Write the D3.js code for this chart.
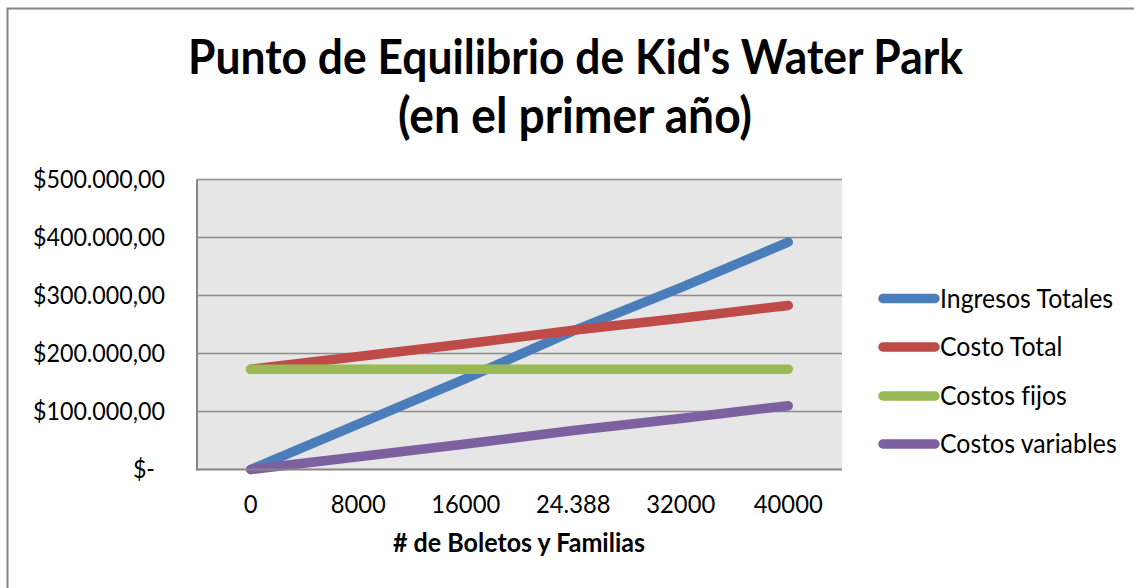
<!DOCTYPE html>
<html>
<head>
<meta charset="utf-8">
<script src="https://cdn.jsdelivr.net/npm/d3@7"></script>
<style>
  html, body { margin: 0; padding: 0; background: #fff; }
  svg { display: block; }
  text { font-family: Lato, "Open Sans", sans-serif; fill: #000; font-variant-ligatures: none; font-feature-settings: "liga" 0; }
</style>
</head>
<body>
<svg id="chart" width="1134" height="588"></svg>
<script>
// ---- data ----
const categories = ["0", "8000", "16000", "24.388", "32000", "40000"];
const ingresosTotales = [0, 78400, 156800, 239000, 313600, 392000];
const costoTotal = [172900, 194900, 216900, 240000, 260900, 282900];
const costosFijos = [172900, 172900, 172900, 172900, 172900, 172900];
const costosVariables = [0, 22000, 44000, 67100, 88000, 110000];
const seriesNames = ["Ingresos Totales", "Costo Total", "Costos fijos", "Costos variables"];
const yTicks = [0, 100000, 200000, 300000, 400000, 500000];
const titleLines = ["Punto de Equilibrio de Kid's Water Park", "(en el primer año)"];
const xTitle = "# de Boletos y Familias";

const seriesData = [ingresosTotales, costoTotal, costosFijos, costosVariables];
const colors = ["#4a7ebb", "#be4b48", "#98b954", "#7d60a0"];

const svg = d3.select("#chart");
const W = 1134, H = 588;
const plot = { left: 197, right: 842, top: 179.5, bottom: 469.5 };
const TALL = 1.07; // Calibri-like narrower glyphs: enlarge then compress horizontally

// helper: fit font size so text spans target width, then enlarge slightly and compress
function fit(sel, target) {
  const node = sel.node();
  let fs = parseFloat(sel.attr("font-size"));
  for (let i = 0; i < 3; i++) {
    const w = node.getComputedTextLength();
    if (w > 0) { fs = fs * target / w; sel.attr("font-size", fs); }
  }
  return fs;
}
function squeeze(sel, fs) {
  sel.each(function () {
    const s = d3.select(this);
    s.attr("font-size", fs);
    const w = this.getComputedTextLength();
    s.attr("font-size", fs * TALL)
     .attr("textLength", w)
     .attr("lengthAdjust", "spacingAndGlyphs");
  });
}

// outer frame
svg.append("rect")
  .attr("x", 7.5).attr("y", 8.5)
  .attr("width", W + 10).attr("height", H + 10)
  .attr("fill", "#fff").attr("stroke", "#868686").attr("stroke-width", 2);

// scales
const x = d3.scaleBand().domain(categories).range([plot.left, plot.right]);
const y = d3.scaleLinear().domain([0, 500000]).range([plot.bottom, plot.top]);

// plot area
svg.append("rect")
  .attr("x", plot.left).attr("y", plot.top)
  .attr("width", plot.right - plot.left).attr("height", plot.bottom - plot.top)
  .attr("fill", "#e6e6e6");

// gridlines
svg.append("g").selectAll("line").data(yTicks.filter(d => d > 0)).join("line")
  .attr("x1", plot.left).attr("x2", plot.right)
  .attr("y1", d => y(d)).attr("y2", d => y(d))
  .attr("stroke", "#8c8c8c").attr("stroke-width", 1.6);

// y axis line
svg.append("line")
  .attr("x1", plot.left).attr("x2", plot.left)
  .attr("y1", plot.top).attr("y2", plot.bottom + 1)
  .attr("stroke", "#868686").attr("stroke-width", 2);

// y tick labels
const fmt = d => d === 0 ? "$-" : "$" + d3.format(",.2f")(d).replace(/,/g, "#").replace(/\./g, ",").replace(/#/g, ".");
const yLab = svg.append("g").selectAll("text").data(yTicks).join("text")
  .attr("x", d => d === 0 ? 155 : 165)
  .attr("y", d => y(d))
  .attr("dy", "0.35em")
  .attr("text-anchor", "end")
  .attr("font-size", 21)
  .text(fmt);
const yfs = fit(d3.select(yLab.nodes()[5]), 132);
squeeze(yLab, yfs);

// x tick labels
const xLab = svg.append("g").selectAll("text").data(categories).join("text")
  .attr("x", d => x(d) + x.bandwidth() / 2)
  .attr("y", 513)
  .attr("text-anchor", "middle")
  .attr("font-size", 21)
  .text(d => d);
const xfs = fit(d3.select(xLab.nodes()[5]), 69);
squeeze(xLab, xfs);

// lines
const line = d3.line()
  .x((d, i) => x(categories[i]) + x.bandwidth() / 2)
  .y(d => y(d));
svg.append("g").selectAll("path").data(seriesData).join("path")
  .attr("d", d => line(d))
  .attr("fill", "none")
  .attr("stroke", (d, i) => colors[i])
  .attr("stroke-width", 9.5)
  .attr("stroke-linecap", "round")
  .attr("stroke-linejoin", "round");

// x axis line (on top)
svg.append("line")
  .attr("x1", plot.left - 1).attr("x2", plot.right)
  .attr("y1", plot.bottom).attr("y2", plot.bottom)
  .attr("stroke", "#868686").attr("stroke-width", 2.2);

// x axis title
const xt = svg.append("text")
  .attr("x", 519).attr("y", 552)
  .attr("text-anchor", "middle")
  .attr("font-weight", "bold")
  .attr("font-size", 19)
  .text(xTitle);
squeeze(xt, fit(xt, 252));

// title
const t1 = svg.append("text")
  .attr("x", 575.5).attr("y", 74)
  .attr("text-anchor", "middle").attr("font-weight", "bold").attr("font-size", 42)
  .text(titleLines[0]);
squeeze(t1, fit(t1, 775));
const t2 = svg.append("text")
  .attr("x", 575).attr("y", 133)
  .attr("text-anchor", "middle").attr("font-weight", "bold").attr("font-size", 42)
  .text(titleLines[1]);
squeeze(t2, fit(t2, 354));

// legend
const legY = [298.5, 347, 396, 444];
const leg = svg.append("g").selectAll("g").data(seriesNames).join("g")
  .attr("transform", (d, i) => `translate(0,${legY[i]})`);
leg.append("line")
  .attr("x1", 883).attr("x2", 935)
  .attr("y1", 0).attr("y2", 0)
  .attr("stroke", (d, i) => colors[i])
  .attr("stroke-width", 9.5)
  .attr("stroke-linecap", "round");
const legText = leg.append("text")
  .attr("x", 940).attr("y", 0).attr("dy", "0.35em")
  .attr("font-size", 21)
  .text(d => d);
const lfs = fit(d3.select(legText.nodes()[0]), 173);
squeeze(legText, lfs);
</script>
</body>
</html>
